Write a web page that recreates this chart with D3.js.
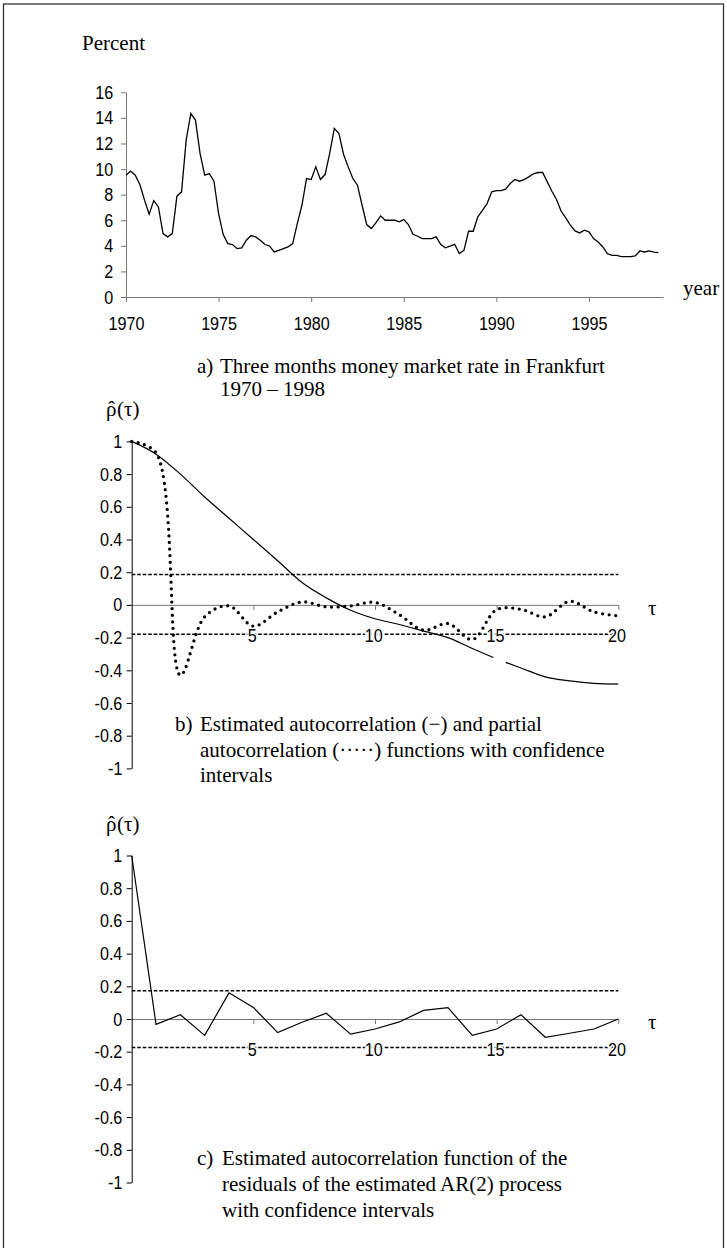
<!DOCTYPE html>
<html>
<head>
<meta charset="utf-8">
<script src="https://cdn.jsdelivr.net/npm/d3@7"></script>
<style>
  body { margin: 0; background: #fff; }
  svg { display: block; }
  .tick text { font-family: "Liberation Sans", Arial, sans-serif; font-size: 19px; fill: #000; }
  .serif { font-family: "Liberation Serif", "Times New Roman", serif; font-size: 21px; fill: #000; }
</style>
</head>
<body>
<svg width="727" height="1248"></svg>
<script>
// a) three months money market rate, quarterly 1970Q1 .. 1998Q4
var rate = [
  9.52, 9.84, 9.52, 8.79, 7.57, 6.47, 7.54, 7.04, 4.96, 4.70,
  4.96, 7.88, 8.22, 12.26, 14.35, 13.83, 11.22, 9.52, 9.65, 9.05,
  6.52, 4.88, 4.17, 4.10, 3.78, 3.84, 4.44, 4.80, 4.70, 4.44,
  4.10, 3.99, 3.52, 3.65, 3.78, 3.91, 4.17, 5.74, 7.17, 9.26,
  9.18, 10.17, 9.18, 9.57, 11.22, 13.18, 12.78, 11.14, 10.17, 9.26,
  8.74, 7.17, 5.66, 5.35, 5.82, 6.34, 6.00, 6.00, 6.00, 5.87,
  6.05, 5.66, 4.90, 4.75, 4.57, 4.57, 4.57, 4.70, 4.10, 3.84,
  3.97, 4.12, 3.39, 3.65, 5.14, 5.14, 6.26, 6.78, 7.30, 8.22,
  8.32, 8.32, 8.43, 8.87, 9.18, 9.05, 9.18, 9.39, 9.63, 9.73,
  9.73, 9.00, 8.27, 7.62, 6.70, 6.18, 5.61, 5.17, 5.01, 5.22,
  5.09, 4.57, 4.30, 3.91, 3.39, 3.26, 3.26, 3.16, 3.16, 3.16,
  3.21, 3.60, 3.52, 3.60, 3.50, 3.47
];
var yearTicks = [1970, 1975, 1980, 1985, 1990, 1995];
var rateTicks = [0, 2, 4, 6, 8, 10, 12, 14, 16];

// b) autocorrelation and partial autocorrelation, lags 0..20
var lags = [0, 1, 2, 3, 4, 5, 6, 7, 8, 9, 10, 11, 12, 13, 14, 15, 16, 17, 18, 19, 20];
var acf = [1, 0.922, 0.80, 0.66, 0.53, 0.40, 0.27, 0.137, 0.043, -0.033, -0.085,
  -0.12, -0.16, -0.20, -0.267, -0.33, -0.386, -0.44, -0.465, -0.48, -0.484];
var pacf = [1, 0.93, -0.43, -0.073, -0.006, -0.13, -0.043, 0.018, -0.012, -0.006, 0.015,
  -0.06, -0.155, -0.114, -0.212, -0.029, -0.027, -0.073, 0.022, -0.043, -0.067];
var confB = [0.186, -0.18];
var acfGap = [14.66, 15.58];

// c) autocorrelation of the AR(2) residuals
var resAcf = [1, -0.033, 0.026, -0.10, 0.16, 0.071, -0.083, -0.02, 0.035, -0.093, -0.061,
  -0.018, 0.053, 0.069, -0.10, -0.061, 0.026, -0.112, -0.087, -0.061, 0.0];
var confC = [0.173, -0.175];

var lagTicks = [5, 10, 15, 20];
var corrTicks = [1, 0.8, 0.6, 0.4, 0.2, 0, -0.2, -0.4, -0.6, -0.8, -1];

var svg = d3.select("svg");

// outer frame
svg.append("rect")
  .attr("x", 3.5).attr("y", 4)
  .attr("width", 720).attr("height", 1260)
  .style("fill", "none").style("stroke", "#333").style("stroke-width", 1.3);

// narrow the tick labels a little, like the original
function narrow(sel) {
  sel.selectAll(".tick text").attr("transform", "scale(0.85,1)");
}

// ---------- a) ----------
var xA = d3.scaleLinear().domain([1970, 1999]).range([126, 663]);
var yA = d3.scaleLinear().domain([0, 16]).range([297, 92.3]);

var axA = svg.append("g")
  .attr("transform", "translate(0," + yA(0) + ")")
  .call(d3.axisBottom(xA).tickValues(yearTicks).tickFormat(d3.format("d")).tickSize(5).tickSizeOuter(0));
axA.selectAll(".tick text").attr("dy", null).attr("y", 33);
narrow(axA);

var ayA = svg.append("g")
  .attr("transform", "translate(" + xA(1970) + ",0)")
  .call(d3.axisLeft(yA).tickValues(rateTicks).tickSize(5).tickSizeOuter(0).tickPadding(10));
narrow(ayA);

svg.selectAll(".domain, .tick line").style("stroke", "#777");

svg.append("path")
  .datum(rate)
  .attr("d", d3.line()
    .x(function (d, i) { return xA(1970 + i / 4); })
    .y(function (d) { return yA(d); }))
  .style("fill", "none").style("stroke", "#000").style("stroke-width", 1.3);

svg.append("text").attr("class", "serif").attr("x", 82).attr("y", 50).text("Percent");
svg.append("text").attr("class", "serif").attr("x", 683).attr("y", 295).text("year");

svg.append("text").attr("class", "serif").attr("x", 197).attr("y", 373).text("a)");
svg.append("text").attr("class", "serif").attr("x", 220).attr("y", 373).text("Three months money market rate in Frankfurt");
svg.append("text").attr("class", "serif").attr("x", 220).attr("y", 396).text("1970 \u2013 1998");

// ---------- b) and c) ----------
function drawCorr(top, conf) {
  var x = d3.scaleLinear().domain([0, 20]).range([131.7, 618.3]);
  var y = d3.scaleLinear().domain([-1, 1]).range([top + 327, top]);
  var g = svg.append("g");

  conf.forEach(function (c) {
    g.append("line")
      .attr("x1", x(0)).attr("x2", x(20))
      .attr("y1", y(c)).attr("y2", y(c))
      .style("stroke", "#000").style("stroke-width", 1.5)
      .style("stroke-dasharray", "3.6,1.9");
  });

  var ax = g.append("g")
    .attr("transform", "translate(0," + y(0) + ")")
    .call(d3.axisBottom(x).tickValues(lagTicks).tickSize(5).tickSizeOuter(0));
  ax.selectAll(".domain, .tick line").style("stroke", "#777");
  ax.selectAll(".tick text")
    .attr("dy", null).attr("y", 37).attr("x", -2)
    .style("stroke", "#fff").style("stroke-width", 3).style("paint-order", "stroke");
  narrow(ax);

  var ay = g.append("g")
    .attr("transform", "translate(" + x(0) + ",0)")
    .call(d3.axisLeft(y).tickValues(corrTicks).tickSize(5).tickSizeOuter(0).tickPadding(6)
      .tickFormat(function (d) { return String(+d.toFixed(1)); }));
  ay.selectAll(".domain, .tick line").style("stroke", "#000");
  narrow(ay);

  g.append("text").attr("class", "serif").attr("x", 648).attr("y", y(0) + 10).text("\u03c4");

  // rho-hat(tau): one text, the hat placed over the rho
  var lab = g.append("text").attr("class", "serif").attr("y", top - 25);
  lab.append("tspan").attr("x", 106).text("\u03c1");
  lab.append("tspan").attr("x", 108).text("\u02c6");
  lab.append("tspan").attr("x", 117).text("(\u03c4)");

  return { x: x, y: y, g: g };
}

var b = drawCorr(441.4, confB);

svg.append("clipPath").attr("id", "gapClip")
  .selectAll("rect")
  .data([[0, acfGap[0]], [acfGap[1], 20]])
  .enter().append("rect")
  .attr("x", function (d) { return b.x(d[0]) - 5; })
  .attr("width", function (d) { return b.x(d[1]) - b.x(d[0]) + 10; })
  .attr("y", 400).attr("height", 400);

b.g.append("path")
  .datum(acf)
  .attr("clip-path", "url(#gapClip)")
  .attr("d", d3.line().curve(d3.curveMonotoneX)
    .x(function (d, i) { return b.x(lags[i]); })
    .y(function (d) { return b.y(d); }))
  .style("fill", "none").style("stroke", "#000").style("stroke-width", 1.2);

b.g.append("path")
  .datum(pacf)
  .attr("d", d3.line().curve(d3.curveCatmullRom)
    .x(function (d, i) { return b.x(lags[i]); })
    .y(function (d) { return b.y(d); }))
  .style("fill", "none").style("stroke", "#000").style("stroke-width", 3.3)
  .style("stroke-linecap", "round").style("stroke-dasharray", "0,6.6");

svg.append("text").attr("class", "serif").attr("x", 175).attr("y", 731).text("b)");
svg.append("text").attr("class", "serif").attr("x", 200).attr("y", 731).text("Estimated autocorrelation (\u2212) and partial");
svg.append("text").attr("class", "serif").attr("x", 200).attr("y", 757).text("autocorrelation (\u00b7\u00b7\u00b7\u00b7\u00b7) functions with confidence");
svg.append("text").attr("class", "serif").attr("x", 200).attr("y", 782).text("intervals");

var c = drawCorr(855.5, confC);

c.g.append("path")
  .datum(resAcf)
  .attr("d", d3.line()
    .x(function (d, i) { return c.x(lags[i]); })
    .y(function (d) { return c.y(d); }))
  .style("fill", "none").style("stroke", "#000").style("stroke-width", 1.2);

svg.append("text").attr("class", "serif").attr("x", 197).attr("y", 1165).text("c)");
svg.append("text").attr("class", "serif").attr("x", 222).attr("y", 1165).text("Estimated autocorrelation function of the");
svg.append("text").attr("class", "serif").attr("x", 222).attr("y", 1191).text("residuals of the estimated AR(2) process");
svg.append("text").attr("class", "serif").attr("x", 222).attr("y", 1217).text("with confidence intervals");
</script>
</body>
</html>
